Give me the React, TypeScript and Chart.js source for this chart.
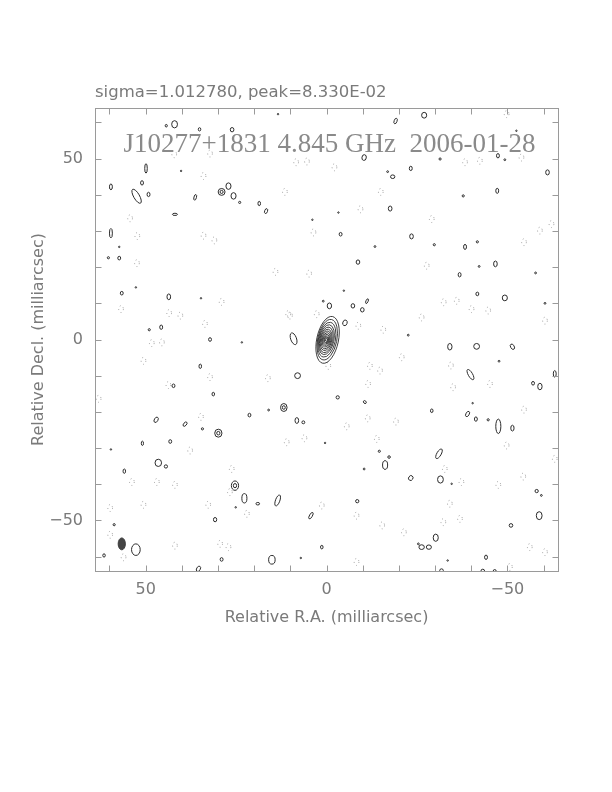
import React, { useEffect, useRef } from 'react';
import { Chart, registerables } from 'chart.js';
Chart.register(...registerables);

const SIGMA_TEXT = 'sigma=1.012780, peak=8.330E-02';
const MAP_TITLE = 'J10277+1831 4.845 GHz  2006-01-28';
const X_TITLE = 'Relative R.A. (milliarcsec)';
const Y_TITLE = 'Relative Decl. (milliarcsec)';
const AXIS_MIN = -64;
const AXIS_MAX = 64;
const MINOR_TICKS = [-60, -50, -40, -30, -20, -10, 0, 10, 20, 30, 40, 50, 60];
const LABEL_TICKS = [-50, 0, 50];

// positive contour islands: [RA, Dec, semi-axis RA, semi-axis Dec, tilt deg] (mas)
const POSITIVE_BLOBS: number[][] = [
  [42.0, 59.5, 0.8, 1.0, 0], [44.3, 59.1, 0.3, 0.35, 0], [35.1, 58.1, 0.35, 0.45, 0], [26.1, 58.0, 0.5, 0.6, 0],
  [49.9, 47.3, 0.35, 1.3, 0], [51.0, 43.3, 0.4, 0.6, 0], [59.6, 42.2, 0.4, 0.8, 0], [52.5, 39.6, 0.8, 2.2, -30],
  [49.2, 40.1, 0.4, 0.6, 0], [36.3, 39.3, 0.35, 0.8, 15], [27.1, 42.4, 0.7, 0.9, 0], [25.7, 39.7, 0.7, 0.9, 0],
  [24.0, 37.9, 0.3, 0.3, 0], [18.6, 37.6, 0.35, 0.6, 0], [16.7, 35.5, 0.4, 0.7, 20], [41.9, 34.6, 0.7, 0.3, 0],
  [59.6, 29.4, 0.4, 1.3, 0], [57.3, 25.6, 0.2, 0.2, 0], [60.3, 22.6, 0.3, 0.3, 0], [57.3, 22.5, 0.4, 0.5, 0],
  [56.6, 12.8, 0.4, 0.5, 0], [43.6, 11.8, 0.5, 0.8, 0], [45.7, 3.4, 0.4, 0.6, 0], [49.0, 2.7, 0.3, 0.3, 0],
  [9.1, 0.2, 0.8, 1.7, -20], [32.2, 0.0, 0.4, 0.5, 0], [40.2, 46.6, 0.2, 0.2, 0], [3.9, 33.1, 0.2, 0.2, 0],
  [34.7, 11.4, 0.2, 0.2, 0], [52.7, 14.4, 0.2, 0.2, 0], [13.4, 62.3, 0.2, 0.2, 0],
  [-27.0, 62.0, 0.7, 0.8, 0], [-19.1, 60.4, 0.4, 0.8, 20], [-10.4, 50.3, 0.6, 0.8, 10], [-31.4, 49.9, 0.3, 0.3, 0],
  [-47.4, 50.8, 0.4, 0.6, 0], [-49.3, 49.7, 0.25, 0.25, 0], [-52.5, 57.7, 0.2, 0.2, 0], [-18.3, 45.0, 0.6, 0.5, 0],
  [-16.9, 46.4, 0.25, 0.25, 0], [-23.3, 47.3, 0.4, 0.6, 0], [-61.1, 46.2, 0.5, 0.7, 0], [-47.2, 41.1, 0.4, 0.7, 0],
  [-37.8, 39.7, 0.3, 0.3, 0], [-17.6, 36.2, 0.5, 0.7, 0], [-3.3, 35.1, 0.2, 0.2, 0], [-3.9, 29.1, 0.4, 0.5, 0],
  [-23.5, 28.5, 0.5, 0.7, 0], [-29.8, 26.2, 0.3, 0.3, 0], [-38.3, 25.6, 0.4, 0.7, 0], [-41.7, 27.0, 0.3, 0.3, 0],
  [-13.4, 25.7, 0.25, 0.25, 0], [-8.7, 21.4, 0.5, 0.6, 0], [-46.7, 20.9, 0.5, 0.8, 0], [-42.2, 20.2, 0.25, 0.25, 0],
  [-36.8, 17.9, 0.4, 0.6, 0], [-57.8, 18.4, 0.25, 0.25, 0], [-49.3, 11.5, 0.7, 0.8, 0], [-41.7, 12.6, 0.4, 0.5, 0],
  [-4.8, 13.5, 0.2, 0.2, 0], [-7.3, 9.3, 0.5, 0.6, 0], [-9.9, 8.2, 0.5, 0.6, 0], [-11.2, 10.6, 0.3, 0.7, 25],
  [-60.4, 10.0, 0.25, 0.25, 0], [-22.6, 1.2, 0.25, 0.25, 0], [-0.8, 9.3, 0.6, 0.8, 0], [0.9, 10.6, 0.25, 0.25, 0],
  [-5.1, 4.6, 0.6, 0.8, 20],
  [34.9, -7.4, 0.35, 0.6, 0], [8.0, -10.0, 0.8, 0.8, 0], [42.3, -12.8, 0.4, 0.5, 0], [31.3, -15.1, 0.35, 0.5, 0],
  [21.3, -20.9, 0.4, 0.5, 0], [16.0, -19.5, 0.25, 0.25, 0], [47.1, -22.2, 0.5, 0.8, 30], [8.2, -22.4, 0.5, 0.8, 0],
  [6.4, -22.9, 0.4, 0.4, 0], [39.1, -23.4, 0.4, 0.7, 40], [34.3, -24.7, 0.3, 0.3, 0], [50.9, -28.7, 0.3, 0.6, 0],
  [43.2, -28.2, 0.4, 0.5, 0], [59.6, -30.4, 0.2, 0.2, 0], [46.5, -34.1, 0.9, 1.0, 0], [44.4, -35.1, 0.45, 0.45, 0],
  [55.9, -36.4, 0.35, 0.6, 0], [22.7, -43.9, 0.7, 1.3, 0], [13.5, -44.5, 0.6, 1.6, 20], [19.0, -45.4, 0.5, 0.35, 0],
  [25.1, -46.4, 0.2, 0.2, 0], [4.3, -48.7, 0.4, 1.0, 30], [30.8, -49.8, 0.45, 0.6, 0], [58.7, -51.2, 0.3, 0.3, 0],
  [52.7, -58.1, 1.2, 1.6, 0], [61.5, -59.7, 0.35, 0.45, 0], [29.0, -60.8, 0.4, 0.5, 0], [15.1, -60.9, 0.9, 1.2, 0],
  [1.3, -57.4, 0.35, 0.5, 0], [35.4, -63.4, 0.5, 0.8, 30], [7.1, -60.4, 0.2, 0.2, 0], [23.4, -0.8, 0.2, 0.2, 0],
  [-34.1, -2.0, 0.6, 0.9, 0], [-41.5, -1.9, 0.8, 0.8, 0], [-51.4, -2.0, 0.5, 0.8, -30], [-47.7, -6.0, 0.25, 0.25, 0],
  [-39.8, -9.7, 0.6, 1.6, -30], [-63.1, -9.5, 0.4, 0.9, 0], [-57.1, -12.1, 0.4, 0.5, 0], [-59.0, -13.0, 0.6, 0.9, 0],
  [-3.1, -16.0, 0.45, 0.45, 0], [-10.6, -17.3, 0.45, 0.35, 45], [-40.4, -17.6, 0.2, 0.2, 0], [-29.1, -19.7, 0.35, 0.5, 0],
  [-39.0, -20.6, 0.45, 0.8, 30], [-41.3, -22.0, 0.4, 0.6, 0], [-44.7, -22.2, 0.3, 0.3, 0], [-47.5, -24.0, 0.7, 2.0, 0],
  [-51.4, -24.5, 0.45, 0.8, 0], [-31.1, -31.6, 0.6, 1.5, 30], [-14.6, -30.9, 0.3, 0.3, 0], [-17.3, -32.5, 0.35, 0.35, 0],
  [-16.2, -34.7, 0.7, 1.2, 0], [-10.4, -35.8, 0.25, 0.25, 0], [-23.3, -38.3, 0.6, 0.7, 30], [-31.5, -38.7, 0.8, 1.0, 0],
  [-34.6, -39.9, 0.2, 0.2, 0], [-58.1, -41.9, 0.45, 0.45, 0], [-59.4, -43.1, 0.25, 0.25, 0], [-8.5, -44.7, 0.45, 0.45, 0],
  [-58.8, -48.7, 0.8, 1.1, 0], [-51.0, -51.4, 0.5, 0.5, 0], [-30.2, -54.8, 0.7, 1.0, 0], [-26.3, -57.4, 0.75, 0.65, 0],
  [-28.3, -57.4, 0.7, 0.6, 0], [-25.4, -56.5, 0.25, 0.25, 0], [-44.1, -60.2, 0.4, 0.6, 0], [-33.5, -61.1, 0.2, 0.2, 0],
  [-31.8, -63.9, 0.5, 0.5, 0], [-43.2, -64.0, 0.5, 0.5, 0], [-46.5, -64.0, 0.4, 0.4, 0], [0.4, -28.6, 0.2, 0.2, 0],
];

// islands with two contour levels: [RA, Dec, semi-axis RA, semi-axis Dec]
const DOUBLE_BLOBS: number[][] = [
  [29.0, 40.8, 0.95, 0.95], [11.8, -18.8, 0.9, 1.1], [29.9, -25.9, 1.0, 1.1], [25.3, -40.4, 1.0, 1.3],
];

// negative (dotted) contour islands: [RA, Dec]
const NEGATIVE_BLOBS: number[][] = [
  [42.1, 51.2], [32.2, 51.4], [8.4, 49.0], [5.4, 49.2], [34.0, 45.2], [54.3, 33.5], [52.3, 28.6], [34.0, 28.7],
  [31.0, 27.4], [52.4, 21.1], [14.1, 18.7], [4.8, 18.2], [56.8, 8.4], [43.5, 7.3], [29.0, 10.4], [10.1, 6.6],
  [33.6, 4.3], [40.4, 6.6], [11.5, 40.8], [3.6, 29.6],
  [-38.3, 49.0], [-42.4, 49.4], [-53.9, 50.3], [-2.2, 47.6], [-15.0, 40.8], [-9.4, 36.0], [-29.1, 33.3],
  [-59.0, 30.1], [-62.2, 31.9], [-54.6, 26.9], [-27.7, 20.4], [-36.0, 10.7], [-40.1, 8.4], [-44.7, 8.0],
  [-32.4, 10.3], [-60.4, 5.2], [-8.8, 3.8], [-15.7, 2.7], [-26.3, 6.1], [-49.8, 62.3],
  [48.3, -1.0], [45.5, -0.8], [50.6, -5.9], [32.2, -10.4], [43.7, -12.6], [16.2, -10.7], [63.0, -16.4],
  [34.7, -21.4], [6.1, -27.3], [37.7, -30.7], [26.2, -35.8], [41.9, -40.2], [46.9, -39.4], [53.8, -39.4],
  [26.7, -42.2], [22.0, -48.2], [32.7, -45.7], [50.6, -45.7], [59.8, -46.6], [59.8, -54.0], [41.9, -57.0],
  [29.4, -56.5], [27.1, -57.4], [56.1, -60.2], [11.0, -28.4], [1.3, -45.9], [-0.5, -7.3], [10.6, 7.0], [2.7, 7.0],
  [-12.0, -7.3],
  [-14.8, -8.6], [-11.5, -12.3], [-35.0, -13.2], [-45.2, -12.3], [-54.6, -19.4], [-5.6, -24.0], [-19.2, -22.7],
  [-11.4, -21.8], [-13.9, -27.5], [-49.8, -29.3], [-32.7, -35.8], [-37.3, -39.4], [-54.4, -37.9], [-47.5, -40.2],
  [-63.1, -33.0], [-34.1, -45.4], [-36.9, -49.6], [-32.3, -50.5], [-8.3, -48.7], [-15.4, -51.4], [-21.4, -53.3],
  [-56.2, -57.4], [-60.4, -58.8], [-8.3, -61.5], [-50.7, -62.9], [-20.8, -4.9], [-34.4, -7.2],
];
const NEGATIVE_SIZE = [0.65, 0.95];

// core component nested levels: [semi-axis RA, semi-axis Dec, offset RA, offset Dec]
const CORE_CENTER = [0.0, -0.1];
const CORE_TILT = 12;
const CORE_LEVELS: number[][] = [
  [3.0, 6.6, -0.3, 0.0], [2.65, 5.7, -0.2, 0.05], [2.35, 4.9, -0.1, 0.05], [2.05, 4.2, 0.0, 0.05],
  [1.8, 3.6, 0.05, 0.0], [1.55, 3.0, 0.1, 0.0], [1.3, 2.5, 0.1, 0.0], [1.05, 2.0, 0.1, 0.0],
  [0.85, 1.55, 0.1, 0.0], [0.65, 1.15, 0.05, 0.0], [0.45, 0.8, 0.05, 0.0], [0.25, 0.45, 0.0, 0.0],
];

// restoring beam: [RA, Dec, semi-axis RA, semi-axis Dec]
const BEAM = [56.6, -56.5, 1.0, 1.65];

const TEXT_COLOR = '#7a7a7a';
const LINE_COLOR = '#2a2a2a';

function ellipsePx(chart: any, x: number, y: number, rx: number, ry: number) {
  const xs = chart.scales.x;
  const ys = chart.scales.y;
  const cx = xs.getPixelForValue(x);
  const cy = ys.getPixelForValue(y);
  const rxp = Math.max(0.7, Math.abs(xs.getPixelForValue(x + rx) - cx));
  const ryp = Math.max(0.7, Math.abs(ys.getPixelForValue(y + ry) - cy));
  return { cx, cy, rxp, ryp };
}

const mapPlugin = {
  id: 'mapPlugin',
  afterDatasetsDraw(chart: any) {
    const ctx = chart.ctx;
    const a = chart.chartArea;
    ctx.save();
    ctx.beginPath();
    ctx.rect(a.left, a.top, a.right - a.left, a.bottom - a.top);
    ctx.clip();
    chart.data.datasets.forEach((ds: any) => {
      const kind = ds.kind;
      ds.data.forEach((p: any) => {
        if (kind === 'neg') {
          const e = ellipsePx(chart, p.x, p.y, NEGATIVE_SIZE[0], NEGATIVE_SIZE[1]);
          ctx.setLineDash([1, 3]);
          ctx.strokeStyle = '#9a9a9a';
          ctx.lineWidth = 1;
          ctx.beginPath();
          ctx.ellipse(e.cx, e.cy, e.rxp, e.ryp, 0, 0, Math.PI * 2);
          ctx.stroke();
          ctx.setLineDash([]);
        } else if (kind === 'pos') {
          const e = ellipsePx(chart, p.x, p.y, p.rx, p.ry);
          ctx.strokeStyle = LINE_COLOR;
          ctx.lineWidth = 1;
          ctx.beginPath();
          ctx.ellipse(e.cx, e.cy, e.rxp, e.ryp, (p.tilt * Math.PI) / 180, 0, Math.PI * 2);
          ctx.stroke();
        } else if (kind === 'double') {
          [1, 0.45].forEach((f) => {
            const e = ellipsePx(chart, p.x, p.y, p.rx * f, p.ry * f);
            ctx.strokeStyle = LINE_COLOR;
            ctx.lineWidth = 1;
            ctx.beginPath();
            ctx.ellipse(e.cx, e.cy, e.rxp, e.ryp, 0, 0, Math.PI * 2);
            ctx.stroke();
          });
        } else if (kind === 'core') {
          const e = ellipsePx(chart, p.x, p.y, p.rx, p.ry);
          ctx.strokeStyle = LINE_COLOR;
          ctx.lineWidth = 0.9;
          ctx.beginPath();
          ctx.ellipse(e.cx, e.cy, e.rxp, e.ryp, (CORE_TILT * Math.PI) / 180, 0, Math.PI * 2);
          ctx.stroke();
        } else if (kind === 'beam') {
          const e = ellipsePx(chart, p.x, p.y, p.rx, p.ry);
          ctx.fillStyle = '#444';
          ctx.strokeStyle = '#333';
          ctx.beginPath();
          ctx.ellipse(e.cx, e.cy, e.rxp, e.ryp, 0, 0, Math.PI * 2);
          ctx.fill();
          ctx.stroke();
        }
      });
    });
    ctx.restore();

    // frame and inward ticks
    ctx.save();
    ctx.strokeStyle = '#9a9a9a';
    ctx.lineWidth = 1;
    const L = Math.round(a.left) + 0.5, R = Math.round(a.right) + 0.5;
    const T = Math.round(a.top) + 0.5, B = Math.round(a.bottom) + 0.5;
    ctx.strokeRect(L, T, R - L, B - T);
    const tl = 6;
    ctx.beginPath();
    MINOR_TICKS.forEach((v) => {
      const px = Math.round(chart.scales.x.getPixelForValue(v)) + 0.5;
      ctx.moveTo(px, B); ctx.lineTo(px, B - tl);
      ctx.moveTo(px, T); ctx.lineTo(px, T + tl);
      const py = Math.round(chart.scales.y.getPixelForValue(v)) + 0.5;
      ctx.moveTo(L, py); ctx.lineTo(L + tl, py);
      ctx.moveTo(R, py); ctx.lineTo(R - tl, py);
    });
    ctx.stroke();

    // texts
    ctx.fillStyle = TEXT_COLOR;
    ctx.textBaseline = 'alphabetic';
    ctx.textAlign = 'left';
    ctx.font = '16.5px "DejaVu Sans"';
    ctx.fillText(SIGMA_TEXT, a.left, a.top - 11);
    ctx.fillStyle = '#8a8a8a';
    ctx.textAlign = 'center';
    ctx.font = '27px "Liberation Serif"';
    ctx.fillText(MAP_TITLE, (a.left + a.right) / 2 + 3, a.top + 44);
    ctx.restore();
  },
};

const fmt = (v: number) => (LABEL_TICKS.includes(v) ? (v < 0 ? '\u2212' + Math.abs(v) : String(v)) : '');

export default function App() {
  const ref = useRef<HTMLCanvasElement>(null);
  useEffect(() => {
    if (!ref.current) return;
    const chart = new Chart(ref.current, {
      type: 'scatter',
      data: {
        datasets: [
          { kind: 'neg', data: NEGATIVE_BLOBS.map((b) => ({ x: b[0], y: b[1] })), pointRadius: 0 } as any,
          { kind: 'pos', data: POSITIVE_BLOBS.map((b) => ({ x: b[0], y: b[1], rx: b[2], ry: b[3], tilt: b[4] })), pointRadius: 0 } as any,
          { kind: 'double', data: DOUBLE_BLOBS.map((b) => ({ x: b[0], y: b[1], rx: b[2], ry: b[3] })), pointRadius: 0 } as any,
          { kind: 'core', data: CORE_LEVELS.map((c) => ({ x: CORE_CENTER[0] + c[2], y: CORE_CENTER[1] + c[3], rx: c[0], ry: c[1] })), pointRadius: 0 } as any,
          { kind: 'beam', data: [{ x: BEAM[0], y: BEAM[1], rx: BEAM[2], ry: BEAM[3] }], pointRadius: 0 } as any,
        ],
      },
      options: {
        animation: false,
        responsive: false,
        layout: { padding: { left: 0, right: 54, top: 108, bottom: 0 } },
        plugins: { legend: { display: false }, tooltip: { enabled: false }, title: { display: false } },
        scales: {
          x: {
            type: 'linear', min: AXIS_MIN, max: AXIS_MAX, reverse: true,
            afterFit: (s: any) => { s.height = 221; },
            grid: { display: false, drawTicks: false },
            border: { display: false },
            ticks: {
              stepSize: 10, autoSkip: false, maxRotation: 0, padding: 9,
              color: TEXT_COLOR, font: { family: 'DejaVu Sans', size: 16 },
              callback: (v: any) => fmt(Number(v)),
            },
            title: {
              display: true, text: X_TITLE, color: TEXT_COLOR,
              font: { family: 'DejaVu Sans', size: 16 },
              padding: { top: 0, bottom: 165 },
            },
          },
          y: {
            type: 'linear', min: AXIS_MIN, max: AXIS_MAX,
            afterFit: (s: any) => { s.width = 95; },
            grid: { display: false, drawTicks: false },
            border: { display: false },
            ticks: {
              stepSize: 10, autoSkip: false, padding: 12,
              color: TEXT_COLOR, font: { family: 'DejaVu Sans', size: 16 },
              callback: (v: any) => fmt(Number(v)),
            },
            title: {
              display: true, text: Y_TITLE, color: TEXT_COLOR,
              font: { family: 'DejaVu Sans', size: 16 },
              padding: { top: 29, bottom: 0 },
            },
          },
        },
      } as any,
      plugins: [mapPlugin],
    });
    return () => chart.destroy();
  }, []);
  return (
    <div style={{ position: 'absolute', left: 0, top: 0, width: 612, height: 792, background: '#fff' }}>
      <canvas ref={ref} width={612} height={792} style={{ display: 'block' }} />
    </div>
  );
}
